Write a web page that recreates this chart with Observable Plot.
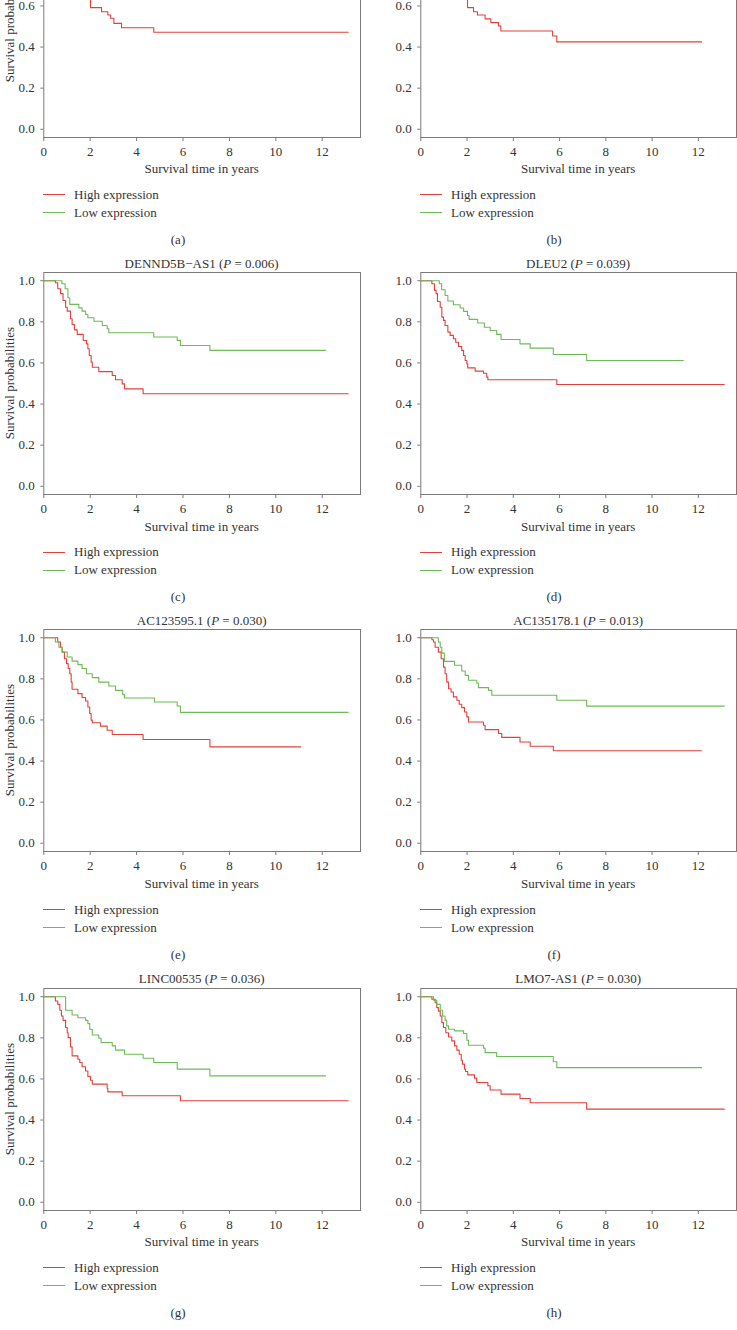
<!DOCTYPE html>
<html><head><meta charset="utf-8">
<script src="https://cdn.jsdelivr.net/npm/d3@7"></script>
<script src="https://cdn.jsdelivr.net/npm/@observablehq/plot@0.6"></script>
<style>
body{margin:0;background:#fff;}
#wrap{position:relative;width:737px;height:1330px;overflow:hidden;font-family:"Liberation Serif","Times New Roman",serif;color:#333;font-size:13px;}
.abs{position:absolute;white-space:nowrap;line-height:16px;}
#wrap svg{position:absolute;}
</style></head><body><div id="wrap"></div>
<script>
// ---- data ----
const genes = ["", "", "DENND5B\u2212AS1", "DLEU2", "AC123595.1", "AC135178.1", "LINC00535", "LMO7-AS1"];
const pValues = ["", "", "0.006", "0.039", "0.030", "0.013", "0.036", "0.030"];
const panelLabels = ["(a)", "(b)", "(c)", "(d)", "(e)", "(f)", "(g)", "(h)"];
const seriesNames = ["High expression", "Low expression"];
const xTicks = [0, 2, 4, 6, 8, 10, 12];
const yTicks = [0, 0.2, 0.4, 0.6, 0.8, 1.0];
const xLabel = "Survival time in years";
const yLabel = "Survival probabilities";

const highA = [[0,1],[0.5,0.98],[0.7,0.95],[0.9,0.91],[1.1,0.86],[1.3,0.81],[1.5,0.76],[1.7,0.71],[1.85,0.67],[1.95,0.635],[2.01,0.592],[2.49,0.572],[2.76,0.556],[2.88,0.54],[3.02,0.515],[3.35,0.494],[4.74,0.472],[13.12,0.472]];
const lowA  = [[0,1],[0.7,0.97],[1.0,0.93],[1.5,0.88],[2.2,0.83],[3.0,0.78],[4.5,0.74],[6.0,0.70],[7.2,0.68],[12.2,0.68]];
const highB = [[0,1],[0.5,0.98],[0.7,0.95],[0.9,0.91],[1.1,0.86],[1.3,0.81],[1.5,0.76],[1.7,0.71],[1.85,0.67],[1.95,0.635],[2.02,0.592],[2.28,0.572],[2.45,0.556],[2.78,0.537],[3.03,0.519],[3.36,0.503],[3.46,0.478],[5.70,0.454],[5.88,0.425],[12.14,0.425]];
const lowB  = [[0,1],[0.7,0.97],[1.0,0.93],[1.5,0.88],[2.2,0.83],[3.0,0.78],[4.5,0.74],[6.0,0.70],[7.2,0.67],[13.1,0.67]];
const highC = [[0,1],[0.50,0.99],[0.60,0.961],[0.72,0.937],[0.83,0.904],[0.94,0.871],[1.01,0.852],[1.15,0.815],[1.22,0.787],[1.32,0.761],[1.44,0.739],[1.70,0.709],[1.84,0.693],[1.90,0.669],[1.96,0.636],[2.04,0.604],[2.09,0.579],[2.37,0.558],[2.95,0.539],[3.09,0.518],[3.38,0.498],[3.48,0.474],[4.28,0.450],[13.12,0.450]];
const lowC  = [[0,1],[0.78,0.985],[0.92,0.961],[1.04,0.917],[1.12,0.885],[1.51,0.868],[1.65,0.852],[1.80,0.836],[1.90,0.820],[2.16,0.803],[2.52,0.782],[2.73,0.766],[2.80,0.747],[4.74,0.726],[5.75,0.710],[5.89,0.685],[7.16,0.661],[12.14,0.661]];
const highD = [[0,1],[0.48,0.985],[0.59,0.953],[0.66,0.937],[0.72,0.899],[0.84,0.871],[0.91,0.823],[0.98,0.807],[1.05,0.782],[1.17,0.750],[1.27,0.734],[1.41,0.718],[1.51,0.701],[1.63,0.680],[1.77,0.661],[1.85,0.636],[1.92,0.612],[1.99,0.596],[2.03,0.576],[2.35,0.560],[2.71,0.550],[2.85,0.531],[2.90,0.518],[5.88,0.495],[13.12,0.495]];
const lowD  = [[0,1],[0.80,0.985],[0.90,0.956],[1.05,0.928],[1.17,0.901],[1.41,0.883],[1.70,0.867],[1.85,0.851],[2.02,0.831],[2.09,0.812],[2.46,0.794],[2.75,0.774],[3.00,0.758],[3.28,0.739],[3.47,0.714],[4.29,0.693],[4.73,0.672],[5.73,0.641],[7.17,0.612],[11.35,0.612]];
const highE = [[0,1],[0.60,0.979],[0.72,0.954],[0.79,0.930],[0.89,0.898],[0.98,0.874],[1.05,0.850],[1.12,0.825],[1.18,0.784],[1.22,0.749],[1.47,0.728],[1.65,0.709],[1.80,0.692],[1.90,0.663],[1.98,0.631],[2.04,0.599],[2.09,0.586],[2.44,0.570],[2.73,0.550],[2.95,0.529],[4.28,0.505],[7.16,0.469],[11.07,0.469]];
const lowE  = [[0,1],[0.50,0.979],[0.65,0.954],[0.79,0.930],[1.01,0.906],[1.22,0.886],[1.47,0.869],[1.65,0.850],[1.84,0.825],[2.09,0.806],[2.37,0.784],[2.80,0.765],[3.09,0.744],[3.40,0.723],[3.48,0.707],[4.77,0.687],[5.75,0.668],[5.89,0.637],[13.12,0.637]];
const highF = [[0,1],[0.48,0.99],[0.55,0.979],[0.62,0.954],[0.76,0.930],[0.88,0.898],[0.98,0.857],[1.05,0.825],[1.12,0.784],[1.20,0.752],[1.31,0.736],[1.41,0.712],[1.56,0.696],[1.66,0.676],[1.77,0.660],[1.89,0.639],[1.99,0.615],[2.06,0.590],[2.71,0.574],[2.78,0.553],[3.36,0.534],[3.50,0.515],[4.29,0.493],[4.73,0.472],[5.73,0.450],[12.14,0.450]];
const lowF  = [[0,1],[0.76,0.979],[0.84,0.954],[0.91,0.925],[1.02,0.885],[1.46,0.866],[1.77,0.838],[1.92,0.817],[2.06,0.793],[2.42,0.780],[2.49,0.757],[2.93,0.744],[3.07,0.720],[5.88,0.696],[7.17,0.667],[13.12,0.667]];
const highG = [[0,1],[0.50,0.979],[0.60,0.963],[0.69,0.934],[0.76,0.906],[0.83,0.885],[0.94,0.850],[1.01,0.825],[1.05,0.801],[1.15,0.756],[1.22,0.712],[1.47,0.696],[1.55,0.680],[1.65,0.659],[1.80,0.639],[1.90,0.612],[2.01,0.594],[2.09,0.575],[2.73,0.555],[2.76,0.537],[3.38,0.518],[5.89,0.494],[13.12,0.494]];
const lowG  = [[0,1],[0.94,0.934],[1.22,0.911],[1.47,0.898],[1.80,0.885],[1.90,0.869],[1.98,0.842],[2.09,0.814],[2.37,0.798],[2.47,0.777],[2.95,0.761],[3.09,0.740],[3.48,0.720],[4.28,0.701],[4.74,0.680],[5.75,0.648],[7.16,0.615],[12.14,0.615]];
const highH = [[0,1],[0.48,0.988],[0.62,0.971],[0.69,0.947],[0.76,0.930],[0.84,0.906],[0.91,0.874],[0.98,0.850],[1.08,0.825],[1.20,0.804],[1.34,0.785],[1.46,0.761],[1.56,0.740],[1.66,0.720],[1.75,0.691],[1.80,0.672],[1.89,0.648],[1.94,0.636],[2.03,0.620],[2.32,0.604],[2.42,0.583],[2.90,0.567],[3.00,0.546],[3.47,0.526],[4.29,0.505],[4.73,0.484],[7.17,0.453],[13.12,0.453]];
const lowH  = [[0,1],[0.55,0.983],[0.69,0.963],[0.84,0.934],[0.94,0.906],[1.05,0.885],[1.12,0.858],[1.20,0.842],[1.46,0.834],[1.85,0.821],[1.99,0.788],[2.06,0.764],[2.71,0.750],[2.78,0.728],[3.28,0.709],[5.73,0.684],[5.88,0.655],[12.14,0.655]];

const highCurves = [highA, highB, highC, highD, highE, highF, highG, highH];
const lowCurves  = [lowA, lowB, lowC, lowD, lowE, lowF, lowG, lowH];

// ---- layout / style ----
const RED = "#e2403a", GREEN = "#6cbb57", AXIS = "#7a7a7a", TEXT = "#333";
const rowY1 = [-77.3, 280.3, 637.6, 995.7];  // page y of the 1.0 level in each row
const cols = [
  {left: 0,   width: 362, ml: 43.3, mr: 2, ylabX: 10},
  {left: 368, width: 369, ml: 52.3, mr: 1, ylabX: 385}
];
const MT = 2, MB = 46, H = 270;
const wrap = document.getElementById("wrap");

function addText(html, x, y, anchor, extra) {
  const d = document.createElement("div");
  d.className = "abs";
  d.innerHTML = html;
  d.style.left = x + "px";
  d.style.top = y + "px";
  d.style.transform = anchor === "middle" ? "translate(-50%,-50%)" : "translate(0,-50%)";
  if (extra) Object.assign(d.style, extra);
  wrap.appendChild(d);
  return d;
}

for (let i = 0; i < 8; i++) {
  const col = cols[i % 2], Y1 = rowY1[Math.floor(i / 2)];
  const data = [
    ...highCurves[i].map(([t, s]) => ({t, s, g: seriesNames[0]})),
    ...lowCurves[i].map(([t, s]) => ({t, s, g: seriesNames[1]}))
  ];
  const svg = Plot.plot({
    width: col.width, height: H,
    marginLeft: col.ml, marginRight: col.mr, marginTop: MT, marginBottom: MB,
    x: {domain: [0, 13.65], label: null},
    y: {domain: [-0.04, 1.04], label: null},
    color: {domain: seriesNames, range: [RED, GREEN]},
    style: {fontFamily: '"Liberation Serif","Times New Roman",serif', fontSize: "13px", color: TEXT, background: "transparent", overflow: "visible"},
    marks: [
      Plot.frame({stroke: AXIS, strokeWidth: 1}),
      Plot.axisX({ticks: xTicks, tickSize: 4, tickPadding: 5, stroke: AXIS, fill: TEXT, label: null, tickFormat: d3.format("d")}),
      Plot.axisY({ticks: yTicks, tickSize: 3, tickPadding: 6, stroke: AXIS, fill: TEXT, label: null, tickFormat: d3.format(".1f")}),
      Plot.line(data, {x: "t", y: "s", z: "g", stroke: "g", curve: "step-after", strokeWidth: 1.1})
    ]
  });
  svg.style.left = col.left + "px";
  svg.style.top = (Y1 - 8.2 - MT) + "px";
  wrap.appendChild(svg);

  const frameL = col.left + col.ml, frameR = col.left + col.width - col.mr;
  const cx = (frameL + frameR) / 2;
  if (genes[i]) addText(`${genes[i]} (<i>P</i> = ${pValues[i]})`, cx, Y1 - 16.5, "middle");
  addText(xLabel, cx, Y1 + 246.3, "middle");
  addText(yLabel, col.left + col.ylabX, Y1 + 102.8, "middle", {transform: "translate(-50%,-50%) rotate(-90deg)"});
  seriesNames.forEach((name, k) => {
    const y = Y1 + 272 + 18 * k;
    const ln = document.createElement("div");
    ln.style.cssText = `position:absolute;left:${frameL}px;top:${y - 0.5}px;width:22px;height:0;border-top:1.2px solid ${k ? GREEN : RED};`;
    wrap.appendChild(ln);
    addText(name, frameL + 30.7, y, "start");
  });
  addText(panelLabels[i], i % 2 ? 554 : 178, Y1 + 317, "middle");
}
</script></body></html>
